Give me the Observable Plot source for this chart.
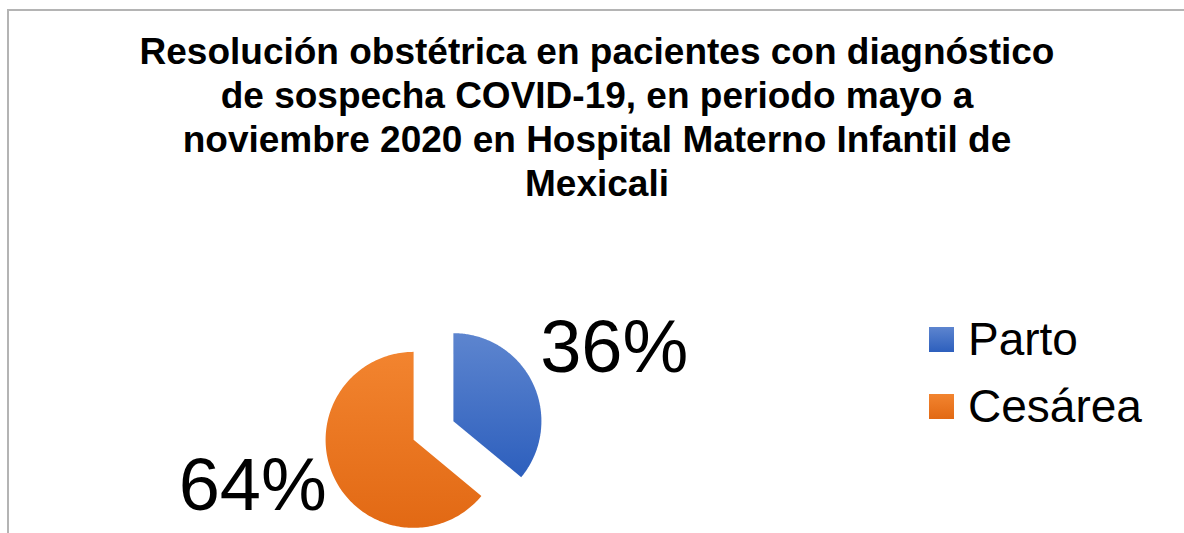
<!DOCTYPE html>
<html>
<head>
<meta charset="utf-8">
<script src="https://cdn.jsdelivr.net/npm/d3@7"></script>
<script src="https://cdn.jsdelivr.net/npm/@observablehq/plot@0.6"></script>
<style>
  html, body { margin: 0; padding: 0; background: #fff; overflow: hidden; }
  #page { position: relative; width: 1184px; height: 533px; font-family: "Liberation Sans", Arial, sans-serif; }
  #frame { position: absolute; left: 7px; top: 9px; width: 1200px; height: 600px; border-left: 2px solid #b4b4b4; border-top: 2px solid #b4b4b4; box-sizing: border-box; }
  #title { position: absolute; left: 0; top: 0; width: 1194px; height: 210px; text-align: center; font-weight: bold; font-size: 37px; line-height: 44px; color: #000; padding-top: 30px; box-sizing: border-box; }
  #chart { position: absolute; left: 0; top: 210px; }
  #legend { position: absolute; left: 929px; top: 316px; font-size: 46px; line-height: 46px; color: #000; }
  .row { display: flex; align-items: center; height: 46px; margin-bottom: 21px; }
  .sw { width: 25px; height: 25px; margin-right: 14px; }
</style>
</head>
<body>
<div id="page">
  <div id="frame"></div>
  <div id="title">Resolución obstétrica en pacientes con diagnóstico<br>de sospecha COVID-19, en periodo mayo a<br>noviembre 2020 en Hospital Materno Infantil de<br>Mexicali</div>
  <div id="chart"></div>
  <div id="legend"></div>
</div>
<script>
// ---- data ----
const categories = ["Parto", "Cesárea"];
const percentages = [36, 64];
const percentLabels = ["36%", "64%"];

// ---- styles (gradient top -> bottom per slice) ----
const gradTop = ["#5d85cf", "#f2842f"];
const gradBottom = ["#2d5fbd", "#e26914"];
const explode = 0.25;      // fraction of radius
const labelDist = 2.27;    // label centre distance, in radii
const labelMinY = -0.6;    // keep lower labels inside the plot area

const total = d3.sum(percentages);
let acc = 0;
const slices = categories.map((c, i) => {
  const a0 = acc / total * 2 * Math.PI;
  acc += percentages[i];
  const a1 = acc / total * 2 * Math.PI;
  const mid = (a0 + a1) / 2;
  const ox = explode * Math.sin(mid), oy = explode * Math.cos(mid);
  const pts = [{x: ox, y: oy}];
  const n = 180;
  for (let k = 0; k <= n; k++) {
    const a = a0 + (a1 - a0) * k / n;
    pts.push({x: ox + Math.sin(a), y: oy + Math.cos(a)});
  }
  return {cat: c, i, pts, mid};
});

const labelData = slices.map(s => ({
  text: percentLabels[s.i],
  x: labelDist * Math.sin(s.mid),
  y: Math.max(labelMinY, labelDist * Math.cos(s.mid))
}));

const cx = 433, cy = 220, R = 88;
const chart = Plot.plot({
  width: 1184,
  height: 323,
  margin: 0,
  style: {fontFamily: "'Liberation Sans', Arial, sans-serif", background: "transparent", overflow: "visible"},
  x: {type: "linear", domain: [-1, 1], range: [cx - R, cx + R], axis: null},
  y: {type: "linear", domain: [-1, 1], range: [cy + R, cy - R], axis: null},
  marks: [
    ...slices.map(s => Plot.line(s.pts, {x: "x", y: "y", curve: "linear-closed", fill: `url(#grad${s.i})`, stroke: "none"})),
    Plot.text(labelData, {x: "x", y: "y", text: "text", fontSize: 74, fill: "#000", textAnchor: "middle", lineAnchor: "middle", dy: 3})
  ]
});

const defs = d3.select(chart).insert("defs", ":first-child");
categories.forEach((c, i) => {
  const g = defs.append("linearGradient").attr("id", `grad${i}`).attr("x1", 0).attr("y1", 0).attr("x2", 0).attr("y2", 1);
  g.append("stop").attr("offset", "0%").attr("stop-color", gradTop[i]);
  g.append("stop").attr("offset", "100%").attr("stop-color", gradBottom[i]);
});
document.getElementById("chart").appendChild(chart);

const legend = d3.select("#legend");
categories.forEach((c, i) => {
  const row = legend.append("div").attr("class", "row");
  row.append("div").attr("class", "sw").style("background", `linear-gradient(${gradTop[i]}, ${gradBottom[i]})`);
  row.append("span").text(c);
});
</script>
</body>
</html>
